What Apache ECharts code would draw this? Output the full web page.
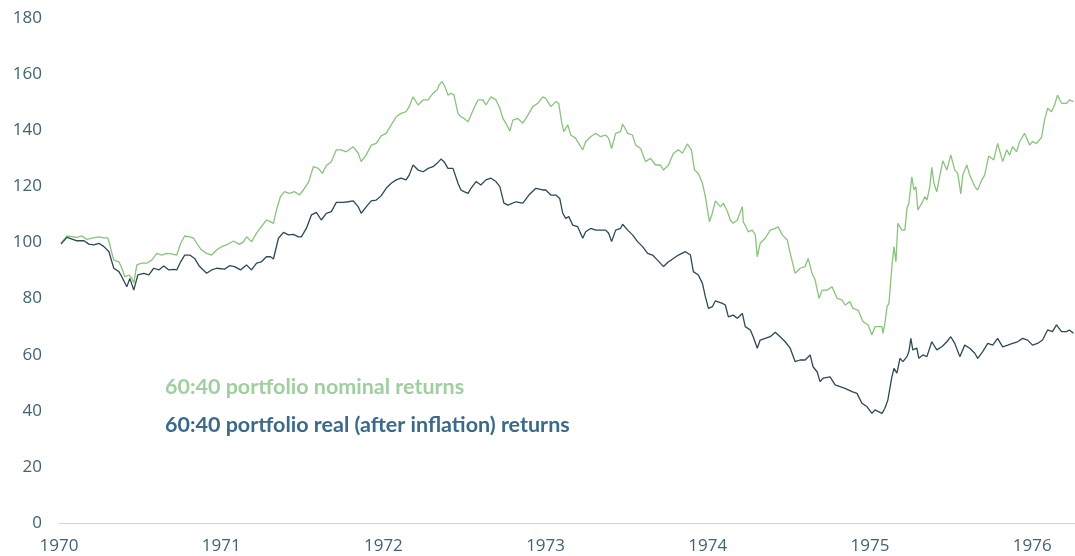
<!DOCTYPE html>
<html>
<head>
<meta charset="utf-8">
<title>60:40 portfolio returns</title>
<script src="https://cdn.jsdelivr.net/npm/echarts@6/dist/echarts.min.js"></script>
<style>
    html, body { margin: 0; padding: 0; background: #fff; }
    #container { width: 1075px; height: 556px; }
</style>
</head>
<body>
<div id="container"></div>
<script>
    // 名义收益 (decimal year, index value)
    const nominalDates = [
        1970.012, 1970.049, 1970.111, 1970.141, 1970.172, 1970.203, 1970.246, 1970.277, 1970.301, 1970.314,
        1970.326, 1970.338, 1970.369, 1970.387, 1970.406, 1970.431, 1970.449, 1970.461, 1970.480, 1970.510,
        1970.541, 1970.572, 1970.603, 1970.633, 1970.664, 1970.695, 1970.726, 1970.750, 1970.775, 1970.806,
        1970.830, 1970.849, 1970.879, 1970.910, 1970.941, 1970.972, 1971.002, 1971.033, 1971.076, 1971.113,
        1971.138, 1971.156, 1971.187, 1971.218, 1971.248, 1971.279, 1971.298, 1971.322, 1971.341, 1971.365,
        1971.390, 1971.421, 1971.451, 1971.482, 1971.507, 1971.538, 1971.568, 1971.599, 1971.624, 1971.648,
        1971.679, 1971.710, 1971.740, 1971.771, 1971.814, 1971.845, 1971.863, 1971.894, 1971.925, 1971.956,
        1971.986, 1972.017, 1972.048, 1972.079, 1972.109, 1972.140, 1972.159, 1972.183, 1972.214, 1972.245,
        1972.276, 1972.306, 1972.331, 1972.343, 1972.362, 1972.380, 1972.398, 1972.417, 1972.435, 1972.460,
        1972.478, 1972.497, 1972.522, 1972.540, 1972.558, 1972.583, 1972.614, 1972.632, 1972.663, 1972.694,
        1972.718, 1972.737, 1972.755, 1972.780, 1972.798, 1972.829, 1972.860, 1972.891, 1972.921, 1972.952,
        1972.983, 1973.001, 1973.032, 1973.063, 1973.081, 1973.100, 1973.112, 1973.137, 1973.155, 1973.186,
        1973.204, 1973.229, 1973.247, 1973.278, 1973.309, 1973.339, 1973.370, 1973.389, 1973.407, 1973.432,
        1973.462, 1973.475, 1973.506, 1973.536, 1973.555, 1973.586, 1973.616, 1973.647, 1973.678, 1973.708,
        1973.727, 1973.758, 1973.788, 1973.819, 1973.844, 1973.874, 1973.899, 1973.918, 1973.942, 1973.967,
        1973.985, 1973.998, 1974.010, 1974.028, 1974.047, 1974.078, 1974.096, 1974.121, 1974.139, 1974.157,
        1974.182, 1974.213, 1974.219, 1974.250, 1974.274, 1974.293, 1974.305, 1974.323, 1974.354, 1974.385,
        1974.416, 1974.434, 1974.459, 1974.490, 1974.508, 1974.539, 1974.569, 1974.600, 1974.619, 1974.643,
        1974.662, 1974.686, 1974.705, 1974.736, 1974.766, 1974.797, 1974.828, 1974.846, 1974.877, 1974.895,
        1974.926, 1974.957, 1974.988, 1975.012, 1975.031, 1975.043, 1975.074, 1975.080, 1975.092, 1975.105,
        1975.117, 1975.135, 1975.148, 1975.160, 1975.172, 1975.197, 1975.215, 1975.228, 1975.240, 1975.258,
        1975.271, 1975.283, 1975.295, 1975.320, 1975.338, 1975.351, 1975.369, 1975.381, 1975.394, 1975.412,
        1975.431, 1975.449, 1975.474, 1975.498, 1975.523, 1975.541, 1975.560, 1975.572, 1975.597, 1975.615,
        1975.646, 1975.664, 1975.689, 1975.707, 1975.732, 1975.763, 1975.787, 1975.818, 1975.843, 1975.861,
        1975.879, 1975.904, 1975.922, 1975.953, 1975.984, 1976.002, 1976.027, 1976.058, 1976.076, 1976.095,
        1976.119, 1976.138, 1976.156, 1976.181, 1976.212, 1976.230, 1976.255
    ]
    const nominalValues = [
        99.7, 102.3, 101.8, 102.3, 101.1, 101.5, 102.0, 101.6, 101.6, 99.1,
        96.2, 93.7, 93.1, 90.9, 87.8, 88.4, 87.3, 85.5, 92.0, 92.6,
        92.6, 93.7, 96.1, 95.5, 96.1, 95.9, 95.5, 99.7, 102.3, 102.0,
        101.5, 99.7, 97.3, 96.1, 95.5, 97.3, 98.5, 99.1, 100.5, 99.3,
        100.3, 102.0, 100.3, 103.3, 105.6, 108.0, 107.6, 106.8, 111.6, 116.3,
        118.1, 117.5, 118.1, 116.9, 118.7, 121.4, 127.0, 126.4, 124.6, 127.4,
        128.8, 133.0, 133.0, 132.3, 134.1, 131.8, 128.8, 131.2, 134.7, 135.3,
        138.0, 138.9, 141.9, 144.8, 146.0, 146.6, 148.4, 151.9, 149.0, 150.8,
        150.8, 153.2, 154.3, 156.1, 157.3, 155.5, 152.5, 153.2, 152.5, 146.0,
        144.8, 144.2, 143.0, 145.4, 147.8, 150.8, 150.8, 149.0, 151.9, 150.8,
        147.8, 144.2, 142.5, 139.7, 143.6, 144.2, 142.5, 145.4, 148.4, 149.6,
        151.9, 151.4, 148.4, 150.2, 149.6, 142.5, 139.5, 141.9, 138.3, 137.1,
        135.3, 133.0, 135.9, 137.7, 138.9, 137.7, 138.3, 137.1, 133.5, 138.9,
        139.5, 142.2, 138.9, 138.3, 134.7, 133.5, 128.8, 130.0, 127.6, 127.6,
        125.8, 127.6, 131.8, 133.0, 131.8, 135.1, 133.0, 125.8, 124.6, 121.1,
        116.3, 111.6, 107.4, 110.4, 114.8, 112.7, 114.0, 111.0, 108.0, 106.8,
        108.0, 112.7, 107.4, 103.8, 104.4, 102.7, 94.9, 99.7, 101.5, 104.4,
        105.0, 105.6, 102.7, 100.9, 96.1, 89.0, 90.8, 91.4, 94.3, 89.0,
        86.6, 80.1, 83.0, 83.0, 84.2, 80.1, 79.5, 77.7, 78.9, 76.5,
        75.9, 71.8, 70.6, 67.0, 70.0, 70.6, 70.0, 67.6, 71.2, 77.1,
        78.3, 91.4, 98.5, 93.1, 106.8, 104.4, 104.4, 112.2, 114.0, 123.4,
        118.7, 119.9, 111.6, 114.0, 116.3, 115.1, 119.9, 126.8, 121.1, 118.1,
        124.0, 129.1, 125.8, 131.2, 125.8, 124.6, 117.3, 124.0, 127.6, 124.0,
        119.9, 118.7, 122.3, 124.0, 130.8, 129.4, 135.3, 128.8, 133.0, 131.2,
        134.1, 132.3, 135.9, 138.9, 134.7, 135.9, 135.3, 137.5, 143.6, 147.8,
        146.6, 149.0, 152.5, 149.6, 149.6, 150.8, 150.2
    ]

    // 实际收益 (after inflation)
    const realDates = [
        1970.012, 1970.049, 1970.111, 1970.154, 1970.184, 1970.215, 1970.246, 1970.277, 1970.308, 1970.326,
        1970.338, 1970.369, 1970.387, 1970.418, 1970.437, 1970.461, 1970.486, 1970.523, 1970.554, 1970.584,
        1970.615, 1970.646, 1970.677, 1970.707, 1970.726, 1970.750, 1970.775, 1970.806, 1970.836, 1970.867,
        1970.910, 1970.941, 1970.972, 1971.021, 1971.052, 1971.082, 1971.119, 1971.156, 1971.187, 1971.218,
        1971.248, 1971.279, 1971.304, 1971.322, 1971.353, 1971.384, 1971.415, 1971.445, 1971.476, 1971.494,
        1971.525, 1971.556, 1971.587, 1971.617, 1971.648, 1971.679, 1971.710, 1971.753, 1971.783, 1971.814,
        1971.845, 1971.863, 1971.894, 1971.925, 1971.956, 1971.986, 1972.017, 1972.048, 1972.079, 1972.109,
        1972.140, 1972.159, 1972.183, 1972.214, 1972.245, 1972.276, 1972.306, 1972.331, 1972.355, 1972.374,
        1972.398, 1972.429, 1972.460, 1972.478, 1972.497, 1972.522, 1972.540, 1972.571, 1972.601, 1972.632,
        1972.663, 1972.694, 1972.718, 1972.743, 1972.768, 1972.817, 1972.860, 1972.897, 1972.940, 1972.983,
        1973.001, 1973.032, 1973.063, 1973.087, 1973.106, 1973.124, 1973.143, 1973.167, 1973.198, 1973.229,
        1973.247, 1973.278, 1973.309, 1973.339, 1973.370, 1973.389, 1973.407, 1973.432, 1973.462, 1973.475,
        1973.506, 1973.536, 1973.567, 1973.598, 1973.629, 1973.659, 1973.690, 1973.727, 1973.758, 1973.788,
        1973.819, 1973.862, 1973.893, 1973.911, 1973.942, 1973.967, 1973.985, 1974.004, 1974.028, 1974.047,
        1974.090, 1974.108, 1974.127, 1974.157, 1974.182, 1974.213, 1974.231, 1974.262, 1974.280, 1974.305,
        1974.323, 1974.354, 1974.385, 1974.416, 1974.446, 1974.477, 1974.508, 1974.539, 1974.569, 1974.600,
        1974.631, 1974.649, 1974.674, 1974.692, 1974.711, 1974.754, 1974.785, 1974.815, 1974.846, 1974.889,
        1974.920, 1974.950, 1974.981, 1975.012, 1975.031, 1975.074, 1975.092, 1975.110, 1975.135, 1975.148,
        1975.166, 1975.185, 1975.203, 1975.228, 1975.240, 1975.252, 1975.264, 1975.289, 1975.301, 1975.326,
        1975.351, 1975.381, 1975.412, 1975.443, 1975.474, 1975.498, 1975.523, 1975.554, 1975.584, 1975.615,
        1975.646, 1975.664, 1975.695, 1975.726, 1975.757, 1975.787, 1975.818, 1975.849, 1975.879, 1975.910,
        1975.941, 1975.972, 1976.002, 1976.033, 1976.064, 1976.095, 1976.125, 1976.150, 1976.181, 1976.212,
        1976.230, 1976.255
    ]
    const realValues = [
        99.4, 101.8, 100.6, 100.6, 99.4, 99.1, 99.7, 98.5, 96.7, 93.1,
        90.8, 89.6, 87.8, 84.2, 87.2, 83.0, 88.4, 89.0, 88.4, 90.8,
        90.2, 91.6, 90.2, 90.4, 90.2, 93.1, 95.5, 95.5, 94.3, 91.4,
        89.0, 90.2, 90.8, 90.5, 91.7, 91.4, 90.2, 92.0, 90.2, 92.6,
        93.1, 94.9, 94.9, 94.1, 101.5, 103.6, 102.7, 102.9, 102.0, 102.0,
        105.0, 109.8, 110.7, 108.0, 110.4, 111.0, 114.3, 114.3, 114.5, 114.8,
        112.7, 110.4, 112.7, 114.8, 115.1, 116.6, 119.3, 121.1, 122.3, 122.9,
        122.3, 124.0, 127.6, 125.8, 125.2, 126.4, 127.0, 128.2, 129.7, 128.8,
        126.4, 126.4, 121.1, 118.7, 118.1, 117.5, 119.3, 121.7, 120.5, 122.3,
        122.9, 121.7, 119.9, 114.0, 113.3, 114.5, 114.0, 116.9, 119.3, 118.7,
        118.7, 116.9, 116.9, 115.7, 110.4, 108.6, 109.2, 106.2, 105.6, 101.5,
        103.8, 105.0, 104.4, 104.4, 104.4, 103.3, 100.3, 104.4, 105.0, 106.5,
        104.4, 102.7, 100.3, 98.5, 96.1, 95.5, 93.7, 91.4, 93.1, 94.3,
        95.5, 96.7, 95.5, 89.6, 88.4, 85.4, 80.7, 76.5, 77.1, 79.2,
        78.3, 77.7, 73.5, 74.1, 73.0, 74.7, 70.0, 68.8, 66.4, 62.3,
        65.2, 65.8, 66.4, 68.0, 66.4, 64.6, 62.3, 57.5, 58.1, 58.1,
        59.9, 55.7, 53.9, 50.4, 51.6, 52.1, 49.2, 48.6, 48.0, 46.8,
        46.2, 42.7, 41.5, 39.1, 40.3, 39.1, 40.9, 43.8, 52.1, 55.1,
        53.4, 58.7, 57.5, 59.3, 61.1, 65.8, 61.7, 62.3, 58.7, 59.9,
        59.3, 64.6, 61.7, 62.8, 64.6, 66.4, 64.0, 59.3, 63.4, 62.3,
        60.5, 58.7, 61.1, 64.0, 63.4, 65.8, 62.8, 63.4, 64.0, 64.6,
        65.8, 65.2, 63.4, 64.0, 65.2, 68.8, 68.2, 70.6, 68.2, 68.2,
        68.8, 67.6
    ]

    const yearTicks = [1970, 1971, 1972, 1973, 1974, 1975, 1976]
    const seriesNames = ['60:40 portfolio nominal returns', '60:40 portfolio real (after inflation) returns']

    const labelColor = '#426370'
    const nominalColor = '#88c47c'
    const realColor = '#2a4a54'

    function zip (xs, ys) {
        const out = []
        for (let i = 0; i < xs.length; i++) {
            out.push([xs[i], ys[i]])
        }
        return out
    }

    const chart = echarts.init(document.getElementById('container'), null, { renderer: 'canvas' })
    const options = {
        animation: false,
        backgroundColor: '#ffffff',
        grid: { left: 59, right: 0, top: 18, bottom: 33, containLabel: false },
        xAxis: {
            type: 'value',
            min: yearTicks[0],
            max: 1976.264,
            interval: 1,
            splitLine: { show: false },
            axisTick: { show: false },
            axisLine: { show: true, lineStyle: { color: '#d4d6d6', width: 1 } },
            axisLabel: {
                color: labelColor,
                fontFamily: 'Open Sans',
                fontSize: 17,
                margin: 15,
                showMaxLabel: false,
                formatter: (v) => (yearTicks.indexOf(v) > -1 ? String(v) : '')
            }
        },
        yAxis: {
            type: 'value',
            min: 0,
            max: 180,
            interval: 20,
            splitLine: { show: false },
            axisTick: { show: false },
            axisLine: { show: false },
            axisLabel: { color: labelColor, fontFamily: 'Open Sans', fontSize: 17, margin: 17 }
        },
        series: [
            {
                name: seriesNames[0],
                type: 'line',
                data: zip(nominalDates, nominalValues),
                showSymbol: false,
                symbol: 'none',
                lineStyle: { color: nominalColor, width: 1.3 }
            },
            {
                name: seriesNames[1],
                type: 'line',
                data: zip(realDates, realValues),
                showSymbol: false,
                symbol: 'none',
                lineStyle: { color: realColor, width: 1.3 }
            }
        ],
        graphic: [
            {
                type: 'text', left: 165, top: 376,
                style: { text: seriesNames[0], fill: '#9fcf9f', font: 'bold 21.5px Lato' }
            },
            {
                type: 'text', left: 165, top: 414,
                style: { text: seriesNames[1], fill: '#3a6a8a', font: 'bold 21.5px Lato' }
            }
        ]
    }
    chart.setOption(options)
</script>
</body>
</html>
